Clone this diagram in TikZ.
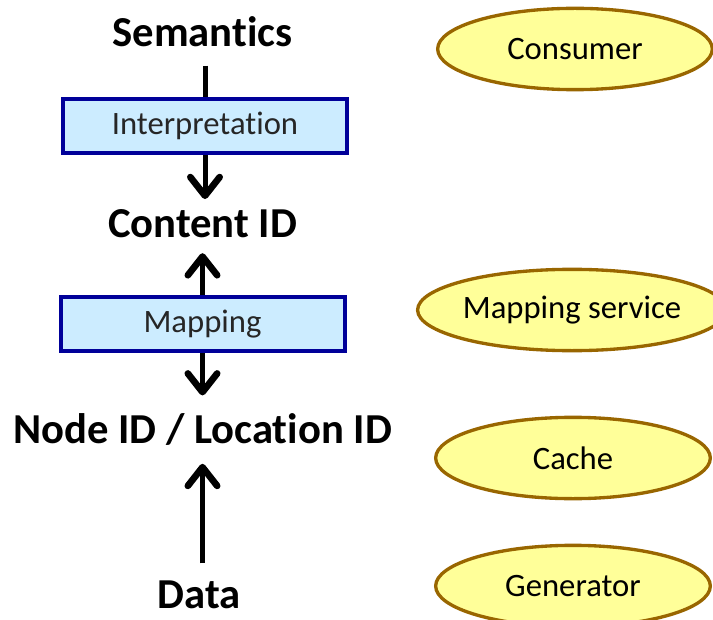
\documentclass[tikz,border=0pt]{standalone}
\usepackage{fontspec}
\setmainfont{Carlito}[Ligatures=NoCommon]
\usetikzlibrary{arrows.meta,shapes.geometric}
\definecolor{boxfill}{HTML}{CCECFF}
\definecolor{boxline}{HTML}{000099}
\definecolor{ovalfill}{HTML}{FFFF99}
\definecolor{ovalline}{HTML}{996600}

\begin{document}
\begin{tikzpicture}[x=0.75pt,y=-0.75pt,
	layer/.style={inner sep=0pt,anchor=base,font=\fontsize{32}{38}\selectfont\bfseries},
	stepbox/.style={draw=boxline,fill=boxfill,line width=3pt,minimum width=213pt,minimum height=41pt,inner sep=0pt,text=black!85,font=\fontsize{24.5}{29}\selectfont},
	role/.style={ellipse,draw=ovalline,fill=ovalfill,line width=2.5pt,minimum width=206pt,minimum height=61pt,inner sep=0pt,font=\fontsize{24.5}{29}\selectfont},
	link/.style={line width=3.75pt},
	arr/.style={link,-{Straight Barb[length=14pt,width=22pt,line width=5pt,round]}}]
			%%%%% START %%%%%
			
			\useasboundingbox (0, 0) rectangle (713, 620);
			
			% layers
			\node[layer] (sem) at (202.5, 47) {Semantics};
			\node[stepbox] (interp) at (205, 126) {Interpretation};
			\node[layer] (cid) at (202.5, 238) {Content ID};
			\node[stepbox] (mapbox) at (202.5, 324) {Mapping};
			\node[layer] (nid) at (202.5, 443) {Node ID / Location ID};
			\node[layer] (data) at (199, 608) {Data};
			
			% roles
			\node[role] (consumer) at (575, 49) {Consumer};
			\node[role] (mapsvc) at (572, 310) {Mapping service};
			\node[role] (cache) at (573, 458) {Cache};
			\node[role] (gen) at (573, 586) {Generator};
			
			% connectors
			\draw[link, shorten <=13.5pt] (sem.south -| interp) -- (interp.north);
			\draw[arr, shorten >=8pt] (interp.south) -- (interp.south |- cid.north);
			\draw[arr, shorten >=11pt] (mapbox.north) -- (mapbox.north |- cid.south);
			\draw[arr, shorten >=13pt] (mapbox.south) -- (mapbox.south |- nid.north);
			\draw[arr, shorten <=12.5pt, shorten >=14pt] (data.north -| nid) -- (nid.south);
			
			%%%%% END %%%%%
\end{tikzpicture}
\end{document}
